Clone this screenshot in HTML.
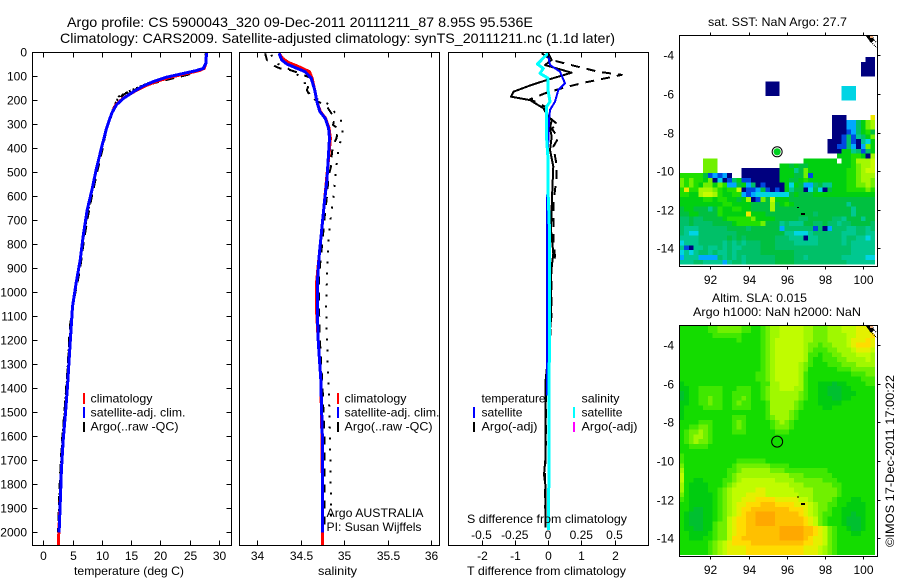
<!DOCTYPE html>
<html lang="en">
<head>
<meta charset="utf-8">
<title>Argo profile</title>
<style>
html,body{margin:0;padding:0;background:#fff}
svg{display:block}
text{font-family:"Liberation Sans",sans-serif;font-size:12px;fill:#000}
</style>
</head>
<body>
<svg id="chart" xmlns="http://www.w3.org/2000/svg" width="900" height="580" viewBox="0 0 900 580">
<defs>
<clipPath id="clip-temp"><rect x="32" y="52" width="200" height="494"/></clipPath>
<clipPath id="clip-sal"><rect x="239" y="52" width="201" height="494"/></clipPath>
<clipPath id="clip-diff"><rect x="448" y="52" width="201" height="494"/></clipPath>
<clipPath id="clip-sst"><rect x="679" y="35" width="199" height="232"/></clipPath>
<clipPath id="clip-sla"><rect x="679" y="325" width="199" height="232"/></clipPath>
</defs>
<rect x="0" y="0" width="900" height="580" fill="#fff"/>
<text x="67" y="27" style="font-size:14px" textLength="466" lengthAdjust="spacingAndGlyphs">Argo profile: CS 5900043_320 09-Dec-2011 20111211_87 8.95S 95.536E</text>
<text x="60" y="43" style="font-size:14px" textLength="555" lengthAdjust="spacingAndGlyphs">Climatology: CARS2009. Satellite-adjusted climatology: synTS_20111211.nc (1.1d later)</text>

<g id="maps"></g>
<g id="plots"></g>
<g id="axes"></g>

<text x="74" y="575" textLength="110" lengthAdjust="spacingAndGlyphs">temperature (deg C)</text>
<text x="318" y="575" textLength="39" lengthAdjust="spacingAndGlyphs">salinity</text>
<text x="467" y="575" textLength="159" lengthAdjust="spacingAndGlyphs">T difference from climatology</text>
<text x="467" y="523" textLength="160" lengthAdjust="spacingAndGlyphs">S difference from climatology</text>

<g>
<line x1="84" x2="84" y1="393" y2="404" stroke="#f00" stroke-width="2"/>
<line x1="84" x2="84" y1="407" y2="418" stroke="#00f" stroke-width="2"/>
<line x1="84" x2="84" y1="422" y2="432" stroke="#000" stroke-width="2"/>
<text x="90.5" y="402.5" textLength="62" lengthAdjust="spacingAndGlyphs">climatology</text>
<text x="90.5" y="416.5" textLength="95" lengthAdjust="spacingAndGlyphs">satellite-adj. clim.</text>
<text x="90.5" y="430.5" textLength="88" lengthAdjust="spacingAndGlyphs">Argo(..raw -QC)</text>
</g>

<g>
<line x1="338" x2="338" y1="393" y2="404" stroke="#f00" stroke-width="2"/>
<line x1="338" x2="338" y1="407" y2="418" stroke="#00f" stroke-width="2"/>
<line x1="338" x2="338" y1="422" y2="432" stroke="#000" stroke-width="2"/>
<text x="344.5" y="402.5" textLength="62" lengthAdjust="spacingAndGlyphs">climatology</text>
<text x="344.5" y="416.5" textLength="95" lengthAdjust="spacingAndGlyphs">satellite-adj. clim.</text>
<text x="344.5" y="430.5" textLength="88" lengthAdjust="spacingAndGlyphs">Argo(..raw -QC)</text>
<text x="326.5" y="517" textLength="97" lengthAdjust="spacingAndGlyphs">Argo AUSTRALIA</text>
<text x="326.5" y="531" textLength="95" lengthAdjust="spacingAndGlyphs">PI: Susan Wijffels</text>
</g>

<g>
<text x="481.5" y="402.5" textLength="64" lengthAdjust="spacingAndGlyphs">temperature</text>
<line x1="474" x2="474" y1="407" y2="418" stroke="#00f" stroke-width="2"/>
<text x="481.5" y="416.5" textLength="41" lengthAdjust="spacingAndGlyphs">satellite</text>
<line x1="474" x2="474" y1="422" y2="432" stroke="#000" stroke-width="2"/>
<text x="481.5" y="430.5" textLength="56" lengthAdjust="spacingAndGlyphs">Argo(-adj)</text>
<text x="581.5" y="402.5" textLength="38" lengthAdjust="spacingAndGlyphs">salinity</text>
<line x1="574" x2="574" y1="407" y2="418" stroke="#0ff" stroke-width="2"/>
<text x="581.5" y="416.5" textLength="41" lengthAdjust="spacingAndGlyphs">satellite</text>
<line x1="574" x2="574" y1="422" y2="432" stroke="#f0f" stroke-width="2"/>
<text x="581.5" y="430.5" textLength="56" lengthAdjust="spacingAndGlyphs">Argo(-adj)</text>
</g>

<text x="708" y="26" textLength="139" lengthAdjust="spacingAndGlyphs">sat. SST: NaN Argo: 27.7</text>
<text x="712" y="302" textLength="95" lengthAdjust="spacingAndGlyphs">Altim. SLA: 0.015</text>
<text x="693" y="316" textLength="168" lengthAdjust="spacingAndGlyphs">Argo h1000: NaN h2000: NaN</text>
<text transform="translate(894,547) rotate(-90)" textLength="172" lengthAdjust="spacingAndGlyphs">©IMOS 17-Dec-2011 17:00:22</text>
</svg>

<script>
// ---- tick values ----
const depthTicks=[0,100,200,300,400,500,600,700,800,900,1000,1100,1200,1300,1400,1500,1600,1700,1800,1900,2000];
const tempTicks=[0,5,10,15,20,25,30];
const salTicks=[34,34.5,35,35.5,36];
const salTickLabels=['34','34.5','35','35.5','36'];
const tDiffTicks=[-2,-1,0,1,2];
const sDiffTicks=[-0.5,-0.25,0,0.25,0.5];
const sDiffTickLabels=['-0.5','-0.25','0','0.25','0.5'];
const lonTicks=[92,94,96,98,100];
const latTicks=[-4,-6,-8,-10,-12,-14];

// ---- temperature profile ----
const satTDepth=[0,46,67,76,90,104,122,140,164,192,219,254,317,393,483,574,657,768,865,962,1060,1170,1267,1385,1503,1615,1740,1837,2000];
const satT=[27.9,27.8,27.35,26.2,23.6,21,18.8,17.1,15.4,13.7,12.5,11.7,10.8,10,9.1,8.3,7.5,6.8,6.3,5.6,5,4.7,4.45,4.15,3.8,3.4,3.1,2.95,2.7];
const climTDepth=[0,46,67,76,90,104,122,140,164,192,219,254,317,393,483,574,657,768,865,962,1060,1170,1267,1385,1503,1615,1740,1837,2000,2055];
const climT=[27.9,27.8,27.5,26.7,24.2,21.6,19.3,17.4,15.5,13.6,12.4,11.7,10.8,10,9.1,8.3,7.5,6.8,6.3,5.6,5,4.7,4.45,4.15,3.8,3.4,3.1,2.95,2.65,2.6];
const argoQcTDepth=[4,46,60,74,94,126,146,171,196,226,268,303,358,400,500,600,700,800,900,1000,1100,1200,1300,1400,1500,1600,1700,1800,1900,2000];
const argoQcT=[27.8,27.9,27.9,27,24.6,19.3,16.6,14.1,12.6,12.2,11.6,11,10.5,10.15,9.2,8.3,7.5,6.85,6.3,5.5,4.7,4.4,4.2,3.9,3.6,3.25,3,2.8,2.65,2.5];
const argoRawTDepth=[4,46,70,90,118,136,164,185,200,226,268,303,358,400,500,600,700,800,900,1000,1200,1400,1600,1800,2000];
const argoRawT=[27.7,27.7,27.3,24.8,19,17.2,14.5,12.8,12.6,12.1,11.4,11,10.5,10,9.05,8.15,7.35,6.7,6.15,5.3,4.45,3.95,3.3,2.85,2.6];

// ---- salinity profile ----
const satSDepth=[4,32,49,60,81,108,157,212,247,275,317,358,421,532,629,740,851,962,1074,1200,1363,1640,2000];
const satS=[34.25,34.28,34.34,34.41,34.55,34.62,34.66,34.69,34.72,34.78,34.82,34.83,34.82,34.8,34.77,34.74,34.71,34.69,34.69,34.7,34.73,34.75,34.75];
const climSDepth=[4,25,43,57,81,108,157,212,247,275,317,358,421,532,629,740,851,962,1074,1200,1363,1640,2000,2055];
const climS=[34.25,34.29,34.36,34.46,34.6,34.63,34.66,34.69,34.725,34.785,34.825,34.84,34.825,34.795,34.77,34.74,34.71,34.68,34.68,34.7,34.73,34.745,34.75,34.75];
const argoQcSDepth=[4,32,57,67,74,88,108,157,185,206,226,275,303,317,358,386,442,469,518,601,699,782,851,935,1074,1200,1400,1600,2000];
const argoQcS=[34.09,34.11,34.2,34.26,34.38,34.49,34.62,34.57,34.61,34.7,34.8,34.89,34.87,34.93,34.91,34.87,34.85,34.85,34.82,34.8,34.77,34.75,34.73,34.71,34.71,34.72,34.75,34.77,34.77];
const argoRawSDepth=[11,49,81,129,185,212,240,289,331,414,504,587,671,768,851,949,1060,1300,1500,1950];
const argoRawS=[34.16,34.24,34.43,34.55,34.61,34.8,34.87,34.97,34.98,34.93,34.9,34.88,34.85,34.82,34.81,34.8,34.79,34.81,34.83,34.85];

// ---- difference profiles ----
const diffSatTDepth=[4,53,81,129,157,206,240,282,365,504,643,1074,1430];
const diffSatT=[-0.01,0.06,0.36,0.51,0.31,0.21,0.06,0.03,0.01,-0.01,-0.03,-0.03,-0.03];
const diffSatSDepth=[4,32,49,67,88,108,157,206,226,365,442,574,754,1074,1400,1700,1990];
const diffSatS=[0,-0.05,-0.08,-0.035,-0.06,0,0,0.015,-0.01,-0.01,0,0,0.012,0.012,0.008,0.006,0.005];
const diffArgoADepth=[4,32,57,81,94,126,146,171,196,226,268,303,317,358,393,469,518,574,629,699,782,851,893,976,1074,1200,1400,1600,1800,1980];
const diffArgoA=[-0.19,0.11,0.81,1.51,2.22,1.11,0.51,-0.09,-0.54,-0.09,0.01,0.31,0.11,0.31,0.16,0.26,0.26,0.21,0.16,0.16,0.16,0.21,0.11,0.11,0.11,0.06,-0.06,-0.06,-0.1,-0.07];
const diffArgoBDepth=[4,32,53,85,118,136,164,185,199,233,268,282,317,351,407,476,574,643,740,837,921,1074,1200,1363,1700,1760,1800,1980];
const diffArgoB=[0.01,0.11,-0.09,0.71,-0.09,-0.49,-1.04,-1.11,-0.54,-0.14,0.01,0.11,0.06,0.11,0.06,0.16,0.13,0.11,0.09,0.16,0.09,0.09,0.05,-0.07,-0.08,-0.12,-0.08,-0.07];

// ---- map levels: one hex digit per 0.25 degree cell, '.' is no data ----
const sstRows=[
".........................................",
".........................................",
".........................................",
".........................................",
".........................................",
"......................................." + "00",
"......................................"  + "000",
"......................................"  + "000",
"......................................"  + "000",
".........................................",
".................." + "000" + "....................",
".................." + "000" + "............." + "333" + "....",
".................." + "000" + "............." + "333" + "....",
".................................." + "333" + "....",
".........................................",
".........................................",
".........................................",
"................................" + "000" + "....." + "c",
"................................" + "000" + "22" + "579a",
"................................" + "000" + "22" + "579a",
"................................" + "000" + "12" + "5786",
"................................" + "00" + "1514579",
"..............................." + "000" + "1510437",
"..............................." + "00" + "11520297",
"..............................." + "000" + "7745157",
"................................." + "7778870a",
"....." + "999" + ".................." + "7777777" + "." + "778aaab",
"....." + "999" + "............." + "77676677777777789aab",
"....." + "999" + "....." + "00000000" + "77746977777777889abb",
"88888" + "612120" + ".." + "00000000" + "77766917777777889aaa",
"98988" + "79030" + "157" + "110" + "00000" + "77667877777777889aa9",
"9898799798226" + "72501" + "0000" + "7376225644777889" + "9a9",
"8c88aaa98788b011261010" + "7466036306777888898",
"8877abba87788" + "2123" + "333333" + "676667777777777777",
"77777887887767" + "a0196b" + "777666666666666666666",
"7777777778877776666" + "a" + "6" + "787" + "66666666666466666",
"67766646877887766" + "66" + "a" + "666666666666666646666",
"66776666877777" + "c" + "77766" + "666666665666666646666",
"55655666678888" + "8" + "9" + "77776" + "66665566666554666466",
"55655556666788" + "888" + "9" + "666" + "4" + "5444665565545566665",
"54445555556666" + "566" + "666" + "6" + "2" + "55" + "555" + "5" + "1" + "5" + "0" + "2" + "555445545",
"54335555555566" + "66666666" + "4433345555554445544",
"44445555556565" + "6666665" + "55444" + "0" + "44555554554434",
"34445555545454" + "5556665" + "55544" + "4" + "44555554544444",
"41044544545445" + "5556665" + "55555" + "5" + "55555555544444",
"34345545445455" + "5556666" + "66655" + "5" + "55555555544444",
"24442222545454" + "5555556" + "66655" + "4" + "55555554444433",
"44455444424554" + "5555556" + "66655" + "5" + "55555555444444"
];
const slaRows=[
"7777778899"+"999887789a"+"abbbbbaa99"+"9aaabbbccc"+"c",
"7777778899"+"999887789a"+"abbbbbaa99"+"9aaabbbccc"+"c",
"7777777888"+"888777789a"+"abbbbbaa99"+"9aaaabbccc"+"d",
"7777777777"+"778777789a"+"bbbbbbaa99"+"9aaaabcccd"+"c",
"7777777777"+"777777789a"+"bbbbbba998"+"99aaabcddd"+"c",
"7777777777"+"777777789a"+"bbbbbba988"+"899aaabccc"+"b",
"7777777777"+"777777789a"+"bbbbbba887"+"8899aaabbb"+"a",
"7777777777"+"777777789a"+"bbbbbba877"+"88899aaaab"+"a",
"7777777777"+"777777789a"+"bbbbba9877"+"7888999aaa"+"a",
"7777777777"+"777777789a"+"bbbbba9777"+"7778889999"+"9",
"7777777777"+"777777889a"+"bbbbba8777"+"7777778889"+"9",
"7777777777"+"777777889a"+"bbbbba8777"+"7777777788"+"8",
"6777777777"+"777777788a"+"abbbba8776"+"6656677778"+"8",
"6677888887"+"778887789a"+"abbbaa8776"+"6555667777"+"7",
"5677888887"+"788887789a"+"aaaaa98776"+"6555666777"+"7",
"5677889887"+"788987789a"+"aaaaa98776"+"6655667777"+"7",
"6677889887"+"789887778a"+"aaaa987776"+"6666777777"+"7",
"6777788887"+"788887778a"+"aaaa987777"+"6677777777"+"7",
"6777777777"+"777777778a"+"aaa9877777"+"7777777777"+"7",
"6777777777"+"7888777789"+"aaa9877777"+"7777777777"+"7",
"7777888777"+"7898777778"+"9a98777777"+"7777777777"+"7",
"7788998777"+"7898777778"+"9998777777"+"7777777777"+"7",
"7899a98777"+"7888777777"+"8887777777"+"7777777777"+"7",
"789aa98777"+"7777777777"+"7777777777"+"7777777777"+"7",
"789a998777"+"7777777777"+"7777777777"+"7777777777"+"7",
"7788887777"+"7777777777"+"7777777777"+"7777777777"+"7",
"7777777777"+"7777777777"+"7777777777"+"7777777777"+"7",
"8777777777"+"7777777777"+"7777777777"+"7777777777"+"7",
"8777777777"+"7788888877"+"7777777777"+"7777777777"+"7",
"9777777777"+"7899999998"+"8887777777"+"7777777777"+"7",
"a777777777"+"889aaaaaa9"+"9988888888"+"8777777777"+"7",
"b777777777"+"89aaaaaaaa"+"aaa9998888"+"8877777777"+"7",
"b776677778"+"89abbbbbbb"+"aaaa999999"+"8887777777"+"7",
"a766667778"+"9abbbbbbbb"+"bbbaaa9999"+"9988777777"+"7",
"a766667789"+"abbbbbccbb"+"bbbbaaaa99"+"9998777777"+"7",
"9766666789"+"abbbccccbb"+"bbbbbaaa99"+"9998777777"+"7",
"8766666789"+"abbcccdddd"+"cccccbba99"+"9987776677"+"7",
"7766666789"+"abccdddeee"+"ddddcccba9"+"9887766667"+"7",
"7765566789"+"abcddeeeee"+"eeedddcba9"+"9877666667"+"7",
"7655566789"+"abcdeeffff"+"eeeeedcba9"+"8877665667"+"7",
"7655566789"+"bcddeeffff"+"eeeeeedcb9"+"8777655567"+"7",
"7655566899"+"bcddeeffff"+"eeeeeedcb9"+"8777655567"+"7",
"7665566899"+"bcddeeeeee"+"efffffeedc"+"b987765567"+"7",
"7766667899"+"bcddeeeeee"+"efffffeedc"+"b987776677"+"7",
"7766677899"+"bddeeeeeee"+"efffffedcc"+"b987777777"+"7",
"77777789ab"+"cddddeeeee"+"eeeeeeddcc"+"b987777777"+"7",
"77777789ab"+"ccccdddddd"+"ddddddcccb"+"a987777777"+"7",
"77777789ab"+"ccccdddddd"+"ddddddcccb"+"a987777777"+"7"
];
const sstColours=["#00007f","#0048e0","#00a8ff","#00d4e4","#00c890","#00c068","#00c040","#00d010","#20e000","#70f000","#a4f800","#c8fc00","#f0e800","#ffd400","#ffb800","#ffa000"];
const slaColours=["#00007f","#0048e0","#00a8ff","#00d4e4","#00c890","#00c030","#00cc10","#14dc00","#40e800","#70f000","#a0f800","#c0fc00","#e4f000","#ffdc00","#ffc000","#ffa800"];
const argoLon=[95.5];
const argoLat=[-9];
const islandLon=[96.6,96.85];
const islandLat=[-11.85,-12.17];

// ---- axis functions ----
function yDepth(d){return 52.3+0.24*d;}
function xTemp(t){return 43.3+5.85*t;}
function xSal(s){return 257.3+87*(s-34);}
function xDiffT(v){return 548+33.25*v;}
function xDiffS(v){return 548+133*v;}
function xLon(v){return 710.3+19.1*(v-92);}
function ySst(v){return 55.3-19.3*(v+4);}
function ySla(v){return 345-19.33*(v+4);}

const NS='http://www.w3.org/2000/svg';
const mapsLayer=document.getElementById('maps');
const plotsLayer=document.getElementById('plots');
const axesLayer=document.getElementById('axes');
function make(tag,parent,attrs){
  const n=document.createElementNS(NS,tag);
  for(const k in attrs){n.setAttribute(k,attrs[k]);}
  parent.appendChild(n);
  return n;
}
function drawTick(parent,x1,y1,x2,y2){
  const t=make('line',parent,{x1:x1,y1:y1,x2:x2,y2:y2,stroke:'#000','stroke-width':1,'shape-rendering':'crispEdges'});
  
  
}
function drawLabel(parent,x,y,str,anchor){
  const t=make('text',parent,{x:x,y:y,'text-anchor':anchor});
  t.textContent=str;
  
  
}
function drawFrame(parent,x,y,w,h,name){
  const r=make('rect',parent,{x:x,y:y,width:w,height:h,fill:'none',stroke:'#000','stroke-width':1,'shape-rendering':'crispEdges'});
  
  
}
function drawSeries(clip,depths,values,xFn,stroke,width,dash,name){
  const pts=depths.map(function(d,i){return xFn(values[i]).toFixed(1)+','+yDepth(d).toFixed(1);}).join(' ');
  const attrs={points:pts,fill:'none',stroke:stroke,'stroke-width':width,'clip-path':'url(#'+clip+')','shape-rendering':'crispEdges','stroke-linejoin':'round'};
  if(dash){attrs['stroke-dasharray']=dash;}
  const p=make('polyline',plotsLayer,attrs);
  
  
}

// ---- heatmaps ----
function drawMap(rows,colours,clip,top,cellH,name){
  const g=make('g',mapsLayer,{'clip-path':'url(#'+clip+')','shape-rendering':'crispEdges'});
  
  
  rows.forEach(function(row,j){
    for(let i=0;i<row.length;i++){
      const ch=row[i];
      if(ch==='.'){continue;}
      const cell=make('rect',g,{
        x:(679.3+i*4.775).toFixed(2),
        y:(top+j*cellH).toFixed(2),
        width:4.9,height:cellH+0.1,
        fill:colours[parseInt(ch,16)]
      });
      
      
    }
  });
}
drawMap(sstRows,sstColours,'clip-sst',33,4.825,'sst-heatmap');
drawMap(slaRows,slaColours,'clip-sla',323.3,4.83,'sla-heatmap');

// coast markers in the map corners and islands
function drawCoast(dy,name){
  const g=make('g',mapsLayer,{'shape-rendering':'crispEdges'});
  
  
  make('polygon',g,{points:(866)+','+(36+dy)+' 877,'+(36+dy)+' 877,'+(47+dy),fill:'#fff'});
  make('polygon',g,{points:'866,'+(36+dy)+' 873,'+(36+dy)+' 874,'+(40+dy)+' 871,'+(43+dy),fill:'#000'});
  make('rect',g,{x:870,y:36+dy,width:3,height:2,fill:'#f0b080'});
  make('line',g,{x1:871,y1:42+dy,x2:877,y2:48+dy,stroke:'#000','stroke-width':1,'stroke-dasharray':'1 1'});
  make('line',g,{x1:874,y1:40+dy,x2:877,y2:43+dy,stroke:'#000','stroke-width':1,'stroke-dasharray':'1 1'});
}
drawCoast(0,'sst-coast');
drawCoast(290,'sla-coast');
function drawIslands(yFn,name){
  islandLon.forEach(function(lon,i){
    const w=i===0?2:4;
    const isl=make('rect',mapsLayer,{x:(xLon(lon)-w/2).toFixed(1),y:yFn(islandLat[i]).toFixed(1),width:w,height:i===0?1:2,fill:'#000','shape-rendering':'crispEdges'});
    
    
  });
}
drawIslands(ySst,'sst-island');
drawIslands(ySla,'sla-island');

// Argo position
const sstOuter=make('circle',mapsLayer,{cx:xLon(argoLon[0]),cy:ySst(argoLat[0]),r:5,fill:'#fff',stroke:'#000','stroke-width':1});


const sstInner=make('circle',mapsLayer,{cx:xLon(argoLon[0]),cy:ySst(argoLat[0]),r:3.6,fill:'#00d020'});


const slaOuter=make('circle',mapsLayer,{cx:xLon(argoLon[0]),cy:ySla(argoLat[0]),r:5.5,fill:'none',stroke:'#000','stroke-width':1});



// ---- profile series ----
drawSeries('clip-temp',argoRawTDepth,argoRawT,xTemp,'#000',2,'2 2','argo-raw-temperature');
drawSeries('clip-temp',argoQcTDepth,argoQcT,xTemp,'#000',2,'9 7','argo-qc-temperature');
drawSeries('clip-temp',climTDepth,climT,xTemp,'#f00',3,null,'climatology-temperature');
drawSeries('clip-temp',satTDepth,satT,xTemp,'#00f',3,null,'satellite-adj-temperature');

drawSeries('clip-sal',argoRawSDepth,argoRawS,xSal,'#000',2,'2 9','argo-raw-salinity');
drawSeries('clip-sal',argoQcSDepth,argoQcS,xSal,'#000',2,'8 8','argo-qc-salinity');
drawSeries('clip-sal',climSDepth,climS,xSal,'#f00',3,null,'climatology-salinity');
drawSeries('clip-sal',satSDepth,satS,xSal,'#00f',3,null,'satellite-adj-salinity');

drawSeries('clip-diff',diffArgoADepth,diffArgoA,xDiffT,'#000',2,'9 7','argo-t-difference-dashed');
drawSeries('clip-diff',diffArgoBDepth,diffArgoB,xDiffT,'#000',2,null,'argo-t-difference-solid');
drawSeries('clip-diff',diffSatTDepth,diffSatT,xDiffT,'#00f',2,null,'satellite-t-difference');
drawSeries('clip-diff',diffSatSDepth,diffSatS,xDiffS,'#0ff',3,null,'satellite-s-difference');

// ---- axes ----
drawFrame(axesLayer,32.5,52.5,199,493,'temperature-axes-frame');
drawFrame(axesLayer,239.5,52.5,200,493,'salinity-axes-frame');
drawFrame(axesLayer,448.5,52.5,200,493,'difference-axes-frame');
drawFrame(axesLayer,679.5,35.5,198,231,'sst-map-frame');
drawFrame(axesLayer,679.5,325.5,198,231,'sla-map-frame');

depthTicks.forEach(function(d){
  const y=Math.round(yDepth(d))+0.5;
  drawTick(axesLayer,32.5,y,37.5,y);
  drawTick(axesLayer,226.5,y,231.5,y);
  drawLabel(axesLayer,27,y+4,String(d),'end');
});
tempTicks.forEach(function(t){
  const x=Math.round(xTemp(t))+0.5;
  drawTick(axesLayer,x,52.5,x,57.5);
  drawTick(axesLayer,x,540.5,x,545.5);
  drawLabel(axesLayer,x,560,String(t),'middle');
});
salTicks.forEach(function(s,i){
  const x=Math.round(xSal(s))+0.5;
  drawTick(axesLayer,x,52.5,x,57.5);
  drawTick(axesLayer,x,540.5,x,545.5);
  drawLabel(axesLayer,x,560,salTickLabels[i],'middle');
});
tDiffTicks.forEach(function(v){
  const x=Math.round(xDiffT(v))+0.5;
  drawTick(axesLayer,x,52.5,x,57.5);
  drawTick(axesLayer,x,540.5,x,545.5);
  drawLabel(axesLayer,x,560,String(v),'middle');
});
sDiffTicks.forEach(function(v,i){
  drawLabel(axesLayer,xDiffS(v),539,sDiffTickLabels[i],'middle');
});
[[35.5,266.5,ySst,284],[325.5,556.5,ySla,574]].forEach(function(m){
  lonTicks.forEach(function(lon){
    const x=Math.round(xLon(lon))+0.5;
    drawTick(axesLayer,x,m[0]-3,x,m[0]);
    drawTick(axesLayer,x,m[1],x,m[1]+3);
    drawLabel(axesLayer,x,m[3],String(lon),'middle');
  });
  latTicks.forEach(function(lat){
    const y=Math.round(m[2](lat))+0.5;
    drawTick(axesLayer,877.5,y,880.5,y);
    drawLabel(axesLayer,674,y+4,String(lat),'end');
  });
});
</script>
</body>
</html>
